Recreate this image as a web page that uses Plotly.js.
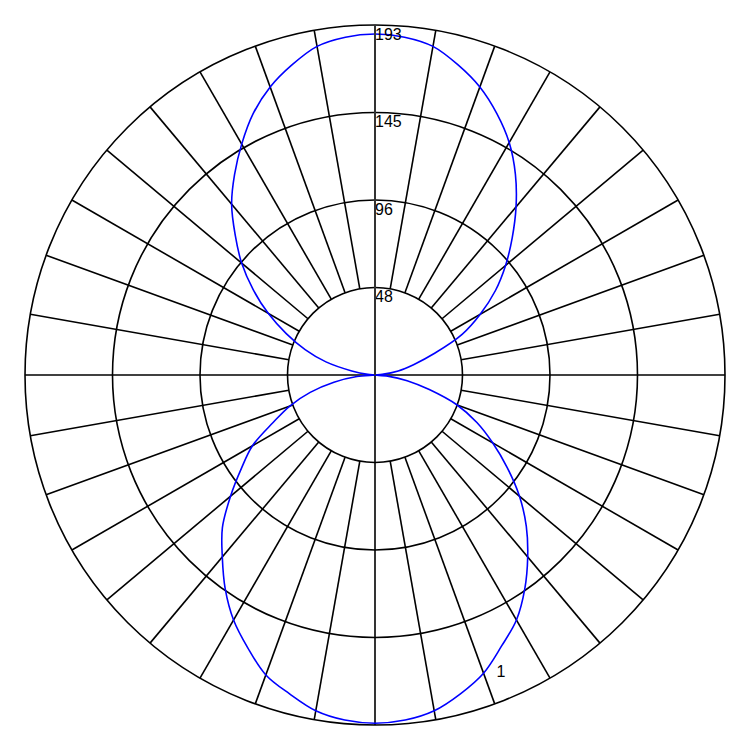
<!DOCTYPE html>
<html>
<head>
<meta charset="utf-8">
<script src="https://cdn.plot.ly/plotly-3.0.1.min.js"></script>
<style>
  html, body { margin: 0; padding: 0; background: #fff; }
  #chart { width: 750px; height: 750px; }
</style>
</head>
<body>
<div id="chart"></div>
<script>
// pattern, every 5 degrees
var thetaDeg = [
    0, 5, 10, 15, 20, 25, 30, 35, 40, 45, 50, 55, 60, 65, 70, 75, 80, 85,
    90, 95, 100, 105, 110, 115, 120, 125, 130, 135, 140, 145, 150, 155, 160, 165, 170, 175,
    180, 185, 190, 195, 200, 205, 210, 215, 220, 225, 230, 235, 240, 245, 250, 255, 260, 265,
    270, 275, 280, 285, 290, 295, 300, 305, 310, 315, 320, 325, 330, 335, 340, 345, 350, 355, 360
];
var gain = [
    0, 4, 13, 22, 35, 53, 67, 81, 94, 107, 121, 135, 148, 159, 169, 177, 184, 187,
    188, 187, 184, 177, 169, 159, 147, 135, 123, 109, 96, 82, 68, 54, 41, 28, 13, 4,
    0, 10, 23, 37, 50, 62, 78, 90, 104, 119, 131, 144, 156, 166, 176, 182, 188, 191,
    192, 191, 188, 182, 175, 165, 156, 144, 131, 118, 104, 89, 75, 62, 48, 31, 18, 7, 0
];

var rMax = 193;
var ringVals = [48.25, 96.5, 144.75, 193];
var ringText = ['48', '96', '145', '193'];
var spokeAngles = [];
for (var a = 0; a < 360; a += 10) spokeAngles.push(a);

var markText = ['1'];
var markR = [178.4];
var markTheta = [292.9];

var labelFont = { family: 'Liberation Sans, Arial, sans-serif', size: 16, color: '#000' };

// spokes start at the inner ring, except the four main axes
var spokeR = [], spokeT = [];
spokeAngles.forEach(function (a) {
    spokeR.push(a % 90 === 0 ? 0 : ringVals[0], rMax, null);
    spokeT.push(a, a, null);
});

var spokes = {
    type: 'scatterpolar',
    mode: 'lines',
    r: spokeR,
    theta: spokeT,
    line: { color: '#000', width: 1.6 },
    hoverinfo: 'skip',
    showlegend: false
};

var pattern = {
    type: 'scatterpolar',
    mode: 'lines',
    r: gain,
    theta: thetaDeg,
    line: { color: '#0000ff', width: 1.6, shape: 'spline' },
    showlegend: false
};

// labels sit a few pixels under their ring
var ringLabels = {
    type: 'scatterpolar',
    mode: 'text',
    r: ringVals.map(function (v) { return v - 1.6; }),
    theta: ringVals.map(function () { return 90; }),
    text: ringText,
    textposition: 'bottom right',
    textfont: labelFont,
    hoverinfo: 'skip',
    showlegend: false
};

var marks = {
    type: 'scatterpolar',
    mode: 'text',
    r: markR,
    theta: markTheta,
    text: markText,
    textposition: 'middle center',
    textfont: labelFont,
    hoverinfo: 'skip',
    showlegend: false
};

var layout = {
    width: 750,
    height: 750,
    margin: { l: 25, r: 25, t: 25, b: 25 },
    paper_bgcolor: '#fff',
    showlegend: false,
    polar: {
        bgcolor: '#fff',
        gridshape: 'linear',
        domain: { x: [0, 1], y: [0, 1] },
        radialaxis: {
            range: [0, rMax],
            tickvals: ringVals,
            showticklabels: false,
            ticks: '',
            showgrid: true,
            gridcolor: '#000',
            gridwidth: 1.6,
            showline: true,
            linecolor: '#333',
            linewidth: 2,
            angle: 90
        },
        angularaxis: {
            tickvals: spokeAngles,
            showticklabels: false,
            ticks: '',
            showgrid: false,
            showline: true,
            linecolor: '#000',
            linewidth: 1.6,
            direction: 'counterclockwise',
            rotation: 0
        }
    }
};

Plotly.newPlot(document.getElementById('chart'), [spokes, pattern, ringLabels, marks], layout, { staticPlot: true });
</script>
</body>
</html>
